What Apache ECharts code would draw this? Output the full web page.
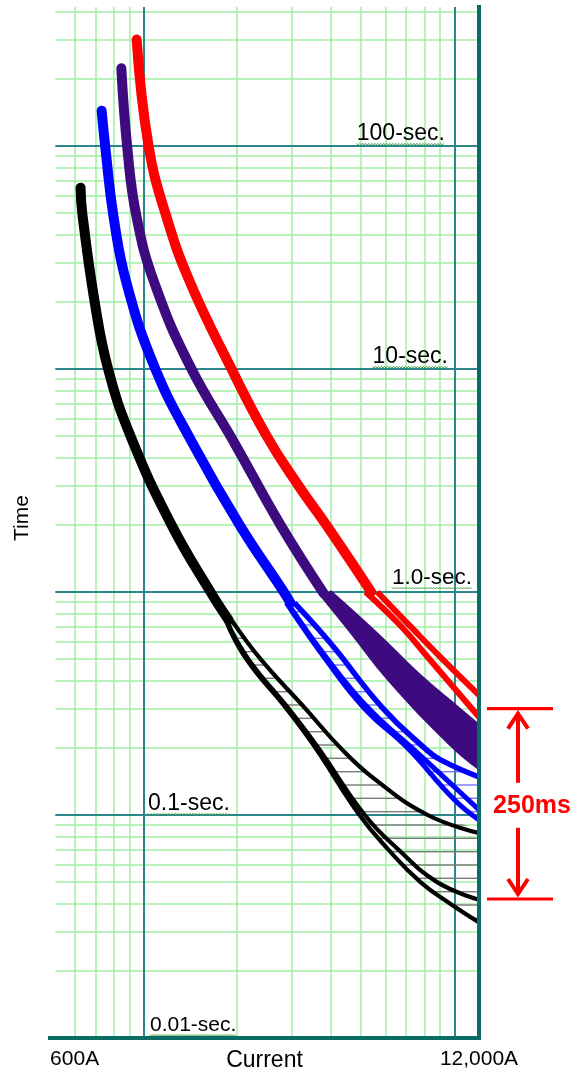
<!DOCTYPE html>
<html>
<head>
<meta charset="utf-8">
<script src="https://cdn.jsdelivr.net/npm/echarts@6/dist/echarts.min.js"></script>
<style>
html,body{margin:0;padding:0;background:#ffffff;}
#c{width:579px;height:1076px;}
</style>
</head>
<body>
<div id="c"></div>
<script>
// ---------------- DATA ----------------
// Grid tick values (current in A, time in s)
const currentMinorTicks = [600, 700, 800, 900, 2000, 3000, 4000, 5000, 6000, 7000, 8000, 9000];
const currentMajorTicks = [1000, 10000];
const timeMinorTicks = [0.02, 0.03, 0.04, 0.05, 0.06, 0.07, 0.08, 0.09,
                        0.2, 0.3, 0.4, 0.5, 0.6, 0.7, 0.8, 0.9,
                        2, 3, 4, 5, 6, 7, 8, 9,
                        20, 30, 40, 50, 60, 70, 80, 90,
                        200, 300, 400];
const timeMajorTicks = [0.1, 1, 10, 100];

// Tick labels
const timeLabelValues = [100, 10, 1, 0.1, 0.01];
const timeLabelTexts = ['100-sec.', '10-sec.', '1.0-sec.', '0.1-sec.', '0.01-sec.'];
const currentLabelValues = [600, 12000];
const currentLabelTexts = ['600A', '12,000A'];
const xAxisTitle = 'Current';
const yAxisTitle = 'Time';

// Annotation (bracket of time values)
const bracketTimes = [0.3, 0.042];
const bracketText = '250ms';

// Curves: [current A, time s]
const redTrunk = [[950,300],[1038,100],[1186,47.9],[1416,24.2],[1905,10.2],[2490,5],[3150,3],[3870,2],[5400,1]];
const redUpper = [[5650,1],[7300,0.69],[9150,0.5],[12000,0.345]];
const redLower = [[5180,1],[6750,0.7],[8250,0.506],[12000,0.275]];

const purpleTrunk = [[848,223],[888,95.6],[950,47.9],[1085,24.2],[1416,10.2],[1962,4.65],[2757,2],[3791,0.99]];
const purpleUpper = [[3950,1],[5610,0.642],[7600,0.425],[9700,0.318],[12000,0.248]];
const purpleLower = [[3700,1],[4700,0.662],[6230,0.403],[9700,0.211],[12000,0.164]];

const blueTrunk = [[733,144],[755,95.6],[801,47.9],[882,24.2],[1085,10.2],[1437,4.65],[2036,2],[2840,0.99],[2970,0.893]];
const blueUpper = [[3057,0.893],[3990,0.59],[5900,0.3],[8000,0.2],[9000,0.177],[12000,0.148]];
const blueMid = [[2904,0.893],[3906,0.5],[5300,0.3],[7300,0.2],[9700,0.139],[12000,0.1055]];
const blueLower = [[2880,0.893],[3848,0.5],[5140,0.3],[7060,0.2],[10000,0.117],[12000,0.095]];

const blackTrunk = [[627,65],[635,50],[696,20],[769,10],[908,5],[1230,2],[1642,1],[1877,0.75]];
const blackUpper = [[1918,0.75],[2380,0.5],[3317,0.3],[4300,0.2],[5570,0.144],[8200,0.1],[12000,0.083]];
const blackMid = [[1845,0.75],[2175,0.5],[2930,0.3],[3650,0.2],[5150,0.1],[6600,0.07],[8800,0.05],[12000,0.0417]];
const blackLower = [[1835,0.75],[2140,0.5],[2880,0.3],[3570,0.2],[4950,0.1],[6130,0.07],[7780,0.05],[9700,0.04],[12000,0.033]];

// ---------------- STYLE / LAYOUT ----------------
const FONT = "'Liberation Sans', Arial, sans-serif";
const X_MIN = 500, X_MAX = 12000, Y_MIN = 0.01, Y_MAX = 420;
const GRID_X_START = 520;
const C_MINOR = '#9ef0a4', C_MAJOR = '#2b878c', C_AXIS = '#0b6b65';
const C_RED = '#ff0000', C_PURPLE = '#3d0a80', C_BLUE = '#0000ff', C_BLACK = '#000000';

function hatch(color) {
  const c = document.createElement('canvas');
  c.width = 8; c.height = 40;
  const g = c.getContext('2d');
  g.strokeStyle = color; g.lineWidth = 1.4;
  [11.7, 25, 38.3].forEach(function (y) { g.beginPath(); g.moveTo(0, y); g.lineTo(8, y); g.stroke(); });
  return { image: c, repeat: 'repeat' };
}

const minorStyle = { color: C_MINOR, width: 1.5, type: 'solid' };
const majorStyle = { color: C_MAJOR, width: 2, type: 'solid' };
const gridLines = [];
timeMinorTicks.forEach(t => gridLines.push([{ coord: [GRID_X_START, t], lineStyle: minorStyle }, { coord: [X_MAX, t] }]));
currentMinorTicks.forEach(v => gridLines.push([{ coord: [v, Y_MIN], lineStyle: minorStyle }, { coord: [v, Y_MAX] }]));
timeMajorTicks.forEach(t => gridLines.push([{ coord: [GRID_X_START, t], lineStyle: majorStyle }, { coord: [X_MAX, t] }]));
currentMajorTicks.forEach(v => gridLines.push([{ coord: [v, Y_MIN], lineStyle: majorStyle }, { coord: [v, Y_MAX] }]));

function lineSeries(data, color, width, z, cap) {
  return { type: 'line', data: data, showSymbol: false, symbol: 'none', smooth: 0.45, silent: true, z: z,
    lineStyle: { color: color, width: width, cap: cap || 'butt', join: 'round' } };
}
function bandSeries(upper, lower, fill, z) {
  return { type: 'custom', coordinateSystem: 'cartesian2d', data: [[1000, 1]], silent: true, z: z, clip: true,
    renderItem: function (params, api) {
      const pts = upper.map(p => api.coord(p)).concat(lower.slice().reverse().map(p => api.coord(p)));
      return { type: 'polygon', shape: { points: pts, smooth: 0.25 }, style: { fill: fill, stroke: null } };
    } };
}

const chart = echarts.init(document.getElementById('c'));
chart.setOption({
  animation: false,
  backgroundColor: '#ffffff',
  grid: { left: 50, right: 100, top: 7, bottom: 38 },
  xAxis: { type: 'log', logBase: 10, min: X_MIN, max: X_MAX, z: 6,
    axisLine: { show: true, lineStyle: { color: C_AXIS, width: 4, cap: 'square' } },
    axisTick: { show: false }, axisLabel: { show: false }, splitLine: { show: false } },
  yAxis: { type: 'log', logBase: 10, min: Y_MIN, max: Y_MAX, position: 'right', z: 6,
    axisLine: { show: true, lineStyle: { color: C_AXIS, width: 4, cap: 'square' } },
    axisTick: { show: false }, axisLabel: { show: false }, splitLine: { show: false } },
  series: [
    { type: 'line', data: [[1000, 1]], showSymbol: false, lineStyle: { opacity: 0 }, silent: true, z: 1,
      markLine: { z: 1, silent: true, symbol: ['none', 'none'], label: { show: false }, animation: false, data: gridLines } },
    bandSeries(blackUpper, blackLower, hatch('#7a7a7a'), 2),
    bandSeries(blueUpper, blueLower, hatch('#7878ff'), 2),
    bandSeries(purpleUpper, purpleLower, C_PURPLE, 2),
    lineSeries(blackTrunk, C_BLACK, 10, 3, 'round'),
    lineSeries(blackUpper, C_BLACK, 4.2, 3),
    lineSeries(blackMid, C_BLACK, 4.2, 3),
    lineSeries(blackLower, C_BLACK, 4.2, 3),
    lineSeries(blueTrunk, C_BLUE, 10, 3, 'round'),
    lineSeries(blueUpper, C_BLUE, 5.5, 3),
    lineSeries(blueMid, C_BLUE, 5, 3),
    lineSeries(blueLower, C_BLUE, 5, 3),
    lineSeries(purpleTrunk, C_PURPLE, 10, 3, 'round'),
    lineSeries(purpleUpper, C_PURPLE, 5.5, 3),
    lineSeries(purpleLower, C_PURPLE, 5.5, 3),
    lineSeries(redTrunk, C_RED, 10, 3, 'round'),
    lineSeries(redUpper, C_RED, 6, 3),
    lineSeries(redLower, C_RED, 6, 3)
  ]
});

// ---------------- TEXT / ANNOTATION ----------------
const px = (I, t) => chart.convertToPixel({ gridIndex: 0 }, [I, t]);
const mctx = document.createElement('canvas').getContext('2d');
function textW(str, fs, weight) { mctx.font = (weight || 'normal') + ' ' + fs + 'px ' + FONT; return mctx.measureText(str).width; }
function txt(str, x, y, fs, align, opts) {
  opts = opts || {};
  return { type: 'text', x: x, y: y, rotation: opts.rotation || 0, silent: true, z: 10,
    style: { text: str, fill: opts.color || '#000', fontSize: fs, fontFamily: FONT, fontWeight: opts.weight || 'normal',
      align: align, textAlign: align, verticalAlign: 'middle', textVerticalAlign: 'middle' } };
}
function squiggle(x0, x1, y) {
  const pts = []; let k = 0;
  for (let x = x0; x <= x1; x += 1.5) { pts.push([x, y + (k % 2 ? 1 : -0.6)]); k++; }
  return { type: 'polyline', silent: true, z: 10, shape: { points: pts }, style: { stroke: '#4aa04a', lineWidth: 1, fill: null } };
}

const labelLayout = [
  { x: 445, align: 'right', fs: 23, gap: 4 },
  { x: 448, align: 'right', fs: 23, gap: 4 },
  { x: 472, align: 'right', fs: 22.5, gap: 6 },
  { x: 148, align: 'left', fs: 23, gap: 3 },
  { x: 150, align: 'left', fs: 21, gap: 5 }
];
const elements = [];
timeLabelValues.forEach(function (v, i) {
  const L = labelLayout[i];
  const lineY = px(1000, v)[1];
  const base = lineY - L.gap;
  elements.push(txt(timeLabelTexts[i], L.x, base - 0.36 * L.fs, L.fs, L.align));
  const w = textW(timeLabelTexts[i], L.fs);
  const x0 = L.align === 'right' ? L.x - w : L.x;
  elements.push(squiggle(x0, x0 + w, base + 2));
});
const bottomY = px(1000, Y_MIN)[1];
currentLabelValues.forEach(function (v, i) {
  elements.push(txt(currentLabelTexts[i], px(v, 1)[0], bottomY + 21, 21, 'center'));
});
const gridRect = chart.getModel().getComponent('grid').coordinateSystem.getRect();
elements.push(txt(xAxisTitle, gridRect.x + gridRect.width / 2, bottomY + 23, 23, 'center'));
elements.push(txt(yAxisTitle, 22, 518, 21, 'center', { rotation: Math.PI / 2 }));

// 250ms bracket
const yTop = px(X_MAX, bracketTimes[0])[1];
const yBot = px(X_MAX, bracketTimes[1])[1];
const mid = (yTop + yBot) / 2;
const ax = 518;
const redLine = { stroke: C_RED, lineWidth: 3.2, fill: null };
const arrowStyle = { stroke: C_RED, lineWidth: 4, fill: null, lineCap: 'butt', lineJoin: 'miter' };
elements.push({ type: 'line', silent: true, z: 10, shape: { x1: 487, y1: yTop, x2: 553, y2: yTop }, style: redLine });
elements.push({ type: 'line', silent: true, z: 10, shape: { x1: 487, y1: yBot, x2: 553, y2: yBot }, style: redLine });
elements.push({ type: 'line', silent: true, z: 10, shape: { x1: ax, y1: yTop + 4, x2: ax, y2: mid - 21 }, style: arrowStyle });
elements.push({ type: 'polyline', silent: true, z: 10, shape: { points: [[ax - 10, yTop + 20], [ax, yTop + 5], [ax + 10, yTop + 20]] }, style: arrowStyle });
elements.push({ type: 'line', silent: true, z: 10, shape: { x1: ax, y1: mid + 24, x2: ax, y2: yBot - 4 }, style: arrowStyle });
elements.push({ type: 'polyline', silent: true, z: 10, shape: { points: [[ax - 10, yBot - 20], [ax, yBot - 5], [ax + 10, yBot - 20]] }, style: arrowStyle });
elements.push(txt(bracketText, 532, mid + 2, 25, 'center', { color: C_RED, weight: 'bold' }));

chart.setOption({ graphic: { elements: elements } });
</script>
</body>
</html>
